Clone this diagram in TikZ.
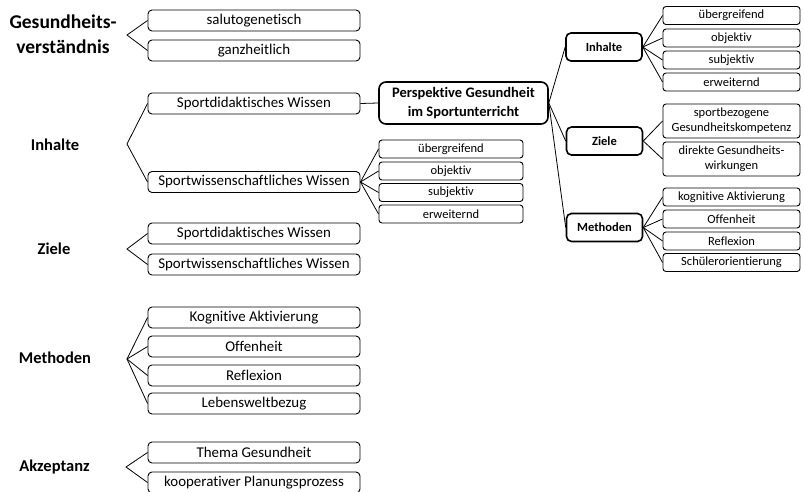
\documentclass[tikz,border=0pt]{standalone}
\usepackage{fontspec}
\setmainfont{Carlito}[RawFeature={-liga}]
\begin{document}
\begin{tikzpicture}[x=1pt,y=-1pt,
  lbox/.style={draw, rounded corners=4pt, line width=0.9pt, minimum width=212pt, minimum height=21pt, inner sep=0pt, font=\fontsize{14.9}{17}\selectfont},
  sbox/.style={draw, rounded corners=3pt, line width=0.9pt, minimum width=144pt, minimum height=18pt, inner sep=0pt, font=\fontsize{12.5}{14}\selectfont},
  rbox/.style={draw, rounded corners=3pt, line width=0.9pt, minimum width=137pt, minimum height=18pt, inner sep=0pt, font=\fontsize{12.5}{14}\selectfont},
  rbox2/.style={rbox, minimum height=34pt, align=center, font=\fontsize{12.5}{15}\selectfont},
  cbox/.style={draw, rounded corners=7pt, line width=1.6pt, minimum width=169pt, minimum height=42pt, inner sep=0pt, align=center, font=\fontsize{14.5}{19}\selectfont\bfseries},
  mbox/.style={draw, rounded corners=5pt, line width=1.6pt, minimum width=76pt, minimum height=28pt, inner sep=0pt, font=\fontsize{12.5}{14}\selectfont\bfseries},
  lab/.style={align=center, inner sep=0pt, font=\fontsize{16.5}{22}\selectfont\bfseries},
  conn/.style={line width=0.8pt}]
\useasboundingbox (0,0) rectangle (804,492);
% left labels
\node[lab, font=\fontsize{19.5}{25}\selectfont\bfseries] (lg) at (63,34) {Gesundheits-\\verständnis};
\node[lab] (li) at (55,145) {Inhalte};
\node[lab] (lz) at (54,249) {Ziele};
\node[lab] (lm) at (55,358) {Methoden};
\node[lab] (la) at (54.5,467) {Akzeptanz};
% apexes
\coordinate (ag) at (127,35);
\coordinate (ai) at (127,144);
\coordinate (az) at (127,249);
\coordinate (am) at (127,359);
\coordinate (aa) at (126,467);
% left boxes
\node[lbox] (g1) at (254,20.5) {salutogenetisch};
\node[lbox] (g2) at (254,50.5) {ganzheitlich};
\node[lbox] (i1) at (254,103.5) {Sportdidaktisches Wissen};
\node[lbox] (i2) at (254,182) {Sportwissenschaftliches Wissen};
\node[lbox] (z1) at (254,233.5) {Sportdidaktisches Wissen};
\node[lbox] (z2) at (254,264.5) {Sportwissenschaftliches Wissen};
\node[lbox] (m1) at (254,317.5) {Kognitive Aktivierung};
\node[lbox] (m2) at (254,346.5) {Offenheit};
\node[lbox] (m3) at (254,375.5) {Reflexion};
\node[lbox] (m4) at (254,403.5) {Lebensweltbezug};
\node[lbox] (a1) at (254,452.5) {Thema Gesundheit};
\node[lbox] (a2) at (254,482.5) {kooperativer Planungsprozess};
% sub boxes of Sportwissenschaftliches Wissen
\node[sbox] (s1) at (451,149) {übergreifend};
\node[sbox] (s2) at (451,171) {objektiv};
\node[sbox] (s3) at (451,192.5) {subjektiv};
\node[sbox] (s4) at (451,214) {erweiternd};
% center
\node[cbox] (c) at (463.5,103) {Perspektive Gesundheit\\im Sportunterricht};
\node[mbox] (ri) at (604,47) {Inhalte};
\node[mbox] (rz) at (604.5,141) {Ziele};
\node[mbox] (rm) at (604.5,227.5) {Methoden};
% right boxes
\node[rbox] (ri1) at (731.5,15.5) {übergreifend};
\node[rbox] (ri2) at (731.5,38) {objektiv};
\node[rbox] (ri3) at (731.5,60) {subjektiv};
\node[rbox] (ri4) at (731.5,82) {erweiternd};
\node[rbox2] (rz1) at (731.5,121) {sportbezogene\\Gesundheitskompetenz};
\node[rbox2] (rz2) at (731.5,159) {direkte Gesundheits-\\wirkungen};
\node[rbox] (rm1) at (731.5,197) {kognitive Aktivierung};
\node[rbox] (rm2) at (731.5,219) {Offenheit};
\node[rbox] (rm3) at (731.5,241) {Reflexion};
\node[rbox] (rm4) at (731.5,262.5) {Schülerorientierung};
% connectors left
\draw[conn] (g1.west) -- (ag) -- (g2.west);
\draw[conn] (i1.west) -- (ai) -- (i2.west);
\draw[conn] (z1.west) -- (az) -- (z2.west);
\draw[conn] (m1.west) -- (am) -- (m4.west);
\draw[conn] (m2.west) -- (am) -- (m3.west);
\draw[conn] (a1.west) -- (aa) -- (a2.west);
\draw[conn] (i1.east) -- (c.west);
\foreach \t in {s1,s2,s3,s4} \draw[conn] (i2.east) -- (\t.west);
% connectors right
\foreach \t in {ri,rz,rm} \draw[conn] (c.east) -- (\t.west);
\foreach \t in {ri1,ri2,ri3,ri4} \draw[conn] (ri.east) -- (\t.west);
\foreach \t in {rz1,rz2} \draw[conn] (rz.east) -- (\t.west);
\foreach \t in {rm1,rm2,rm3,rm4} \draw[conn] (rm.east) -- (\t.west);
\end{tikzpicture}
\end{document}
